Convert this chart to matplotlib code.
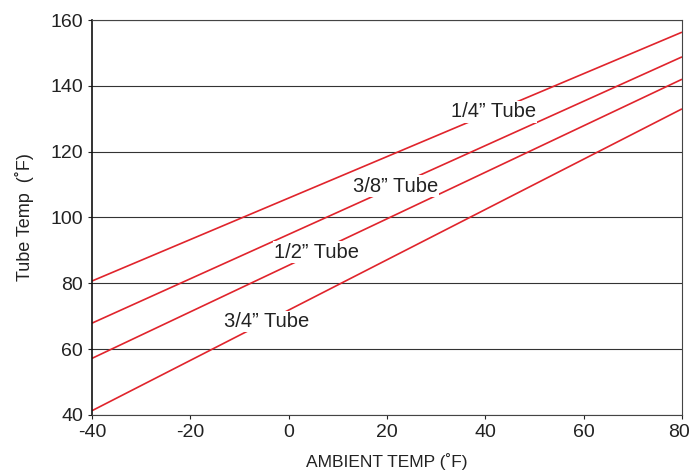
import matplotlib
matplotlib.use("Agg")
import matplotlib.pyplot as plt
from matplotlib.transforms import ScaledTranslation

plt.rcParams["font.family"] = ["Liberation Sans Narrow", "Liberation Sans", "DejaVu Sans"]
plt.rcParams["axes.unicode_minus"] = False

# ambient temp endpoints (F)
ambient = [-40, 80]

# tube temps at the two ends, per tube size
tube_labels = ["1/4\u201d Tube", "3/8\u201d Tube", "1/2\u201d Tube", "3/4\u201d Tube"]
tube_temps = [
    [80.7, 156.3],
    [67.9, 148.8],
    [57.2, 142.0],
    [41.3, 133.0],
]
# where each label sits on its line (ambient temp)
label_x = [41.6, 21.7, 5.7, -4.5]

x_ticks = [-40, -20, 0, 20, 40, 60, 80]
y_ticks = [40, 60, 80, 100, 120, 140, 160]

red = "#e0242c"

fig = plt.figure(figsize=(6.9, 4.74), dpi=100)
ax = fig.add_axes([0.1333, 0.1245, 0.8551, 0.8333])

for y in y_ticks:
    ax.axhline(y, color="#333333", lw=0.8, zorder=1)

for temps, name, lx in zip(tube_temps, tube_labels, label_x):
    ax.plot(ambient, temps, color=red, lw=1.2, zorder=2, solid_capstyle="butt")
    ly = temps[0] + (temps[1] - temps[0]) * (lx - ambient[0]) / (ambient[1] - ambient[0])
    ax.text(lx, ly, name, ha="center", va="center", fontsize=14.5, color="#222222",
            zorder=3, bbox=dict(facecolor="white", edgecolor="none", pad=1.0))

ax.set_xlim(-40, 80)
ax.set_ylim(40, 160)
ax.set_xticks(x_ticks)
ax.set_yticks(y_ticks)
ax.tick_params(labelsize=14, length=3, width=0.8, colors="#222222", direction="out")

# last x label would run off the figure; pull it in like the original
last = ax.get_xticklabels()[-1]
last.set_ha("right")
last.set_transform(last.get_transform() + ScaledTranslation(6 / 72, 0, fig.dpi_scale_trans))

for side in ["top", "right", "bottom"]:
    ax.spines[side].set_color("#444444")
    ax.spines[side].set_linewidth(0.8)
ax.spines["left"].set_color("#111111")
ax.spines["left"].set_linewidth(1.2)

ax.set_xlabel("AMBIENT TEMP (\u02daF)", fontsize=12.5, color="#222222", labelpad=9)
ax.set_ylabel("Tube Temp  (\u02daF)", fontsize=13, color="#222222", labelpad=12)

fig.savefig("out.png", dpi=100)
